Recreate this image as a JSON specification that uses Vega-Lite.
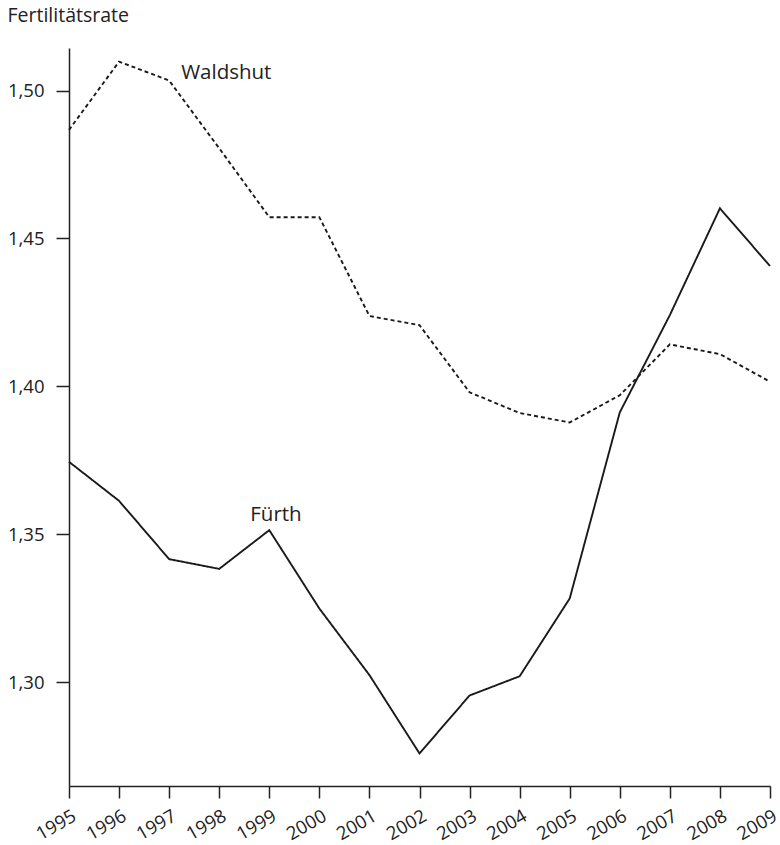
{
  "$schema": "https://vega.github.io/schema/vega-lite/v6.json",
  "width": 701,
  "height": 738,
  "autosize": {"type": "none"},
  "padding": {"left": 69, "top": 48, "right": 10, "bottom": 59},
  "background": "white",
  "config": {
    "view": {"stroke": null},
    "font": "Open Sans",
    "axis": {"grid": false, "domainColor": "#222", "tickColor": "#222", "labelColor": "#222", "titleColor": "#222", "labelFont": "Open Sans", "titleFont": "Open Sans", "titleFontWeight": "normal", "domainWidth": 1.5, "tickWidth": 1.5}
  },
  "datasets": {
    "rates": [
      {"year": 1995, "rate": 1.3745, "region": "Fürth"},
      {"year": 1996, "rate": 1.3613, "region": "Fürth"},
      {"year": 1997, "rate": 1.3416, "region": "Fürth"},
      {"year": 1998, "rate": 1.3383, "region": "Fürth"},
      {"year": 1999, "rate": 1.3514, "region": "Fürth"},
      {"year": 2000, "rate": 1.3249, "region": "Fürth"},
      {"year": 2001, "rate": 1.3024, "region": "Fürth"},
      {"year": 2002, "rate": 1.2759, "region": "Fürth"},
      {"year": 2003, "rate": 1.2955, "region": "Fürth"},
      {"year": 2004, "rate": 1.302, "region": "Fürth"},
      {"year": 2005, "rate": 1.3283, "region": "Fürth"},
      {"year": 2006, "rate": 1.3912, "region": "Fürth"},
      {"year": 2007, "rate": 1.4241, "region": "Fürth"},
      {"year": 2008, "rate": 1.4602, "region": "Fürth"},
      {"year": 2009, "rate": 1.4407, "region": "Fürth"},
      {"year": 1995, "rate": 1.4867, "region": "Waldshut"},
      {"year": 1996, "rate": 1.5098, "region": "Waldshut"},
      {"year": 1997, "rate": 1.5034, "region": "Waldshut"},
      {"year": 1998, "rate": 1.4805, "region": "Waldshut"},
      {"year": 1999, "rate": 1.4572, "region": "Waldshut"},
      {"year": 2000, "rate": 1.4572, "region": "Waldshut"},
      {"year": 2001, "rate": 1.4238, "region": "Waldshut"},
      {"year": 2002, "rate": 1.4207, "region": "Waldshut"},
      {"year": 2003, "rate": 1.398, "region": "Waldshut"},
      {"year": 2004, "rate": 1.391, "region": "Waldshut"},
      {"year": 2005, "rate": 1.3878, "region": "Waldshut"},
      {"year": 2006, "rate": 1.397, "region": "Waldshut"},
      {"year": 2007, "rate": 1.4142, "region": "Waldshut"},
      {"year": 2008, "rate": 1.4109, "region": "Waldshut"},
      {"year": 2009, "rate": 1.4016, "region": "Waldshut"}
    ],
    "labels": [
      {"label": "Waldshut", "year": 1997.24, "rate": 1.5039},
      {"label": "Fürth", "year": 1998.62, "rate": 1.3545}
    ]
  },
  "layer": [
    {
      "data": {"name": "rates"},
      "mark": {"type": "line", "color": "#1a1a1a", "strokeWidth": 1.9, "clip": false},
      "encoding": {
        "x": {
          "field": "year", "type": "quantitative",
          "scale": {"domain": [1995, 2009], "nice": false, "zero": false},
          "axis": {"title": null, "values": [1995,1996,1997,1998,1999,2000,2001,2002,2003,2004,2005,2006,2007,2008,2009], "labelExpr": "'' + datum.value", "labelAngle": -30, "labelAlign": "right", "labelBaseline": "middle", "labelFontSize": 18.5, "tickSize": 12, "labelPadding": 16, "labelOffset": 5, "labelFlush": false, "labelOverlap": false}
        },
        "y": {
          "field": "rate", "type": "quantitative",
          "scale": {"domain": [1.2649, 1.5144], "nice": false, "zero": false},
          "axis": {"title": "Fertilitätsrate", "values": [1.3, 1.35, 1.4, 1.45, 1.5], "labelExpr": "replace(format(datum.value, '.2f'), '.', ',')", "labelFontSize": 18.5, "tickSize": 13, "labelPadding": 12, "titleAngle": 0, "titleAlign": "left", "titleBaseline": "alphabetic", "titleX": -62, "titleY": -27, "titleFontSize": 19.5}
        },
        "strokeDash": {
          "field": "region", "type": "nominal",
          "scale": {"domain": ["Fürth", "Waldshut"], "range": [[1, 0], [4, 3]]},
          "legend": null
        },
        "detail": {"field": "region"}
      }
    },
    {
      "data": {"name": "labels"},
      "mark": {"type": "text", "align": "left", "baseline": "alphabetic", "fontSize": 20.5, "color": "#222", "font": "Open Sans"},
      "encoding": {
        "x": {"field": "year", "type": "quantitative"},
        "y": {"field": "rate", "type": "quantitative"},
        "text": {"field": "label"}
      }
    }
  ]
}
